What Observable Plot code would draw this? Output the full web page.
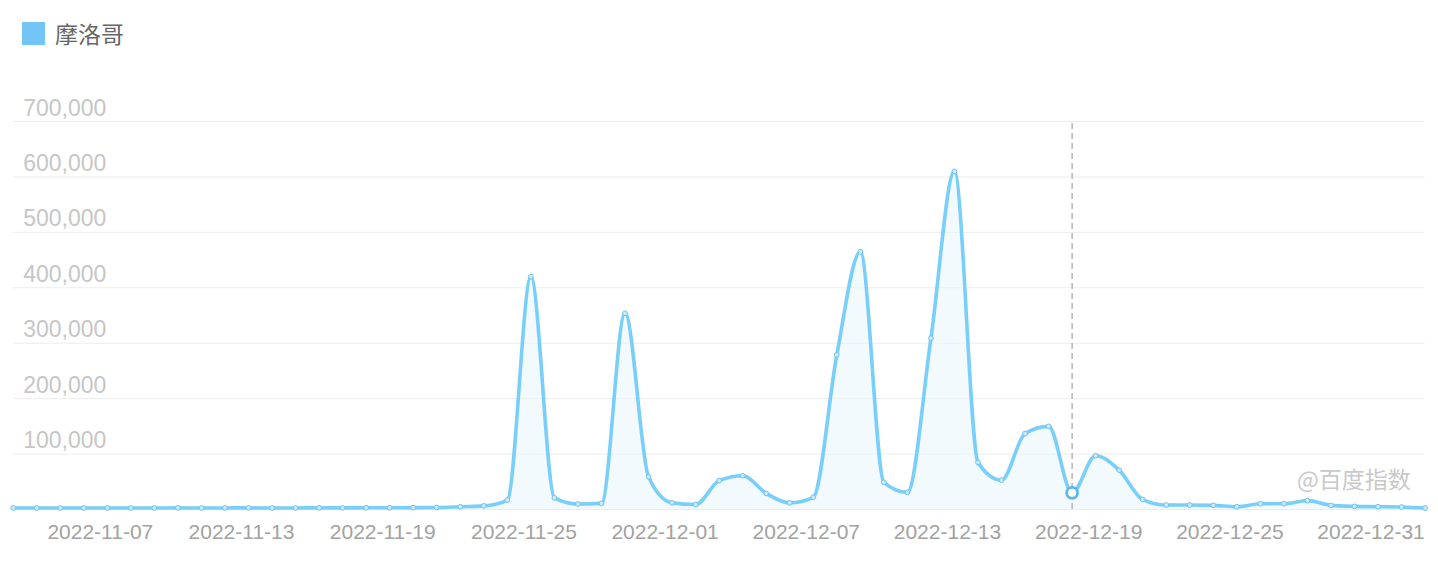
<!DOCTYPE html>
<html>
<head>
<meta charset="utf-8">
<script src="https://cdn.jsdelivr.net/npm/d3@7"></script>
<script src="https://cdn.jsdelivr.net/npm/@observablehq/plot@0.6"></script>
<style>
  html, body { margin: 0; padding: 0; background: #fff; }
  #wrap { position: relative; width: 1438px; height: 566px; overflow: hidden; }
  #legend { position: absolute; left: 22px; top: 16px; display: flex; align-items: center;
    font-family: "Noto Sans CJK SC", sans-serif; font-size: 23px; color: #666; }
  #legend .sw { width: 23px; height: 23px; background: #72c5f5; margin-right: 10px; }
  #chart { position: absolute; left: 0; top: 70px; }
  #mark { position: absolute; left: 1297px; top: 461px; font-family: "Noto Sans CJK SC", sans-serif;
    font-size: 23px; color: #c9c9c9; }
</style>
</head>
<body>
<div id="wrap">
  <div id="legend"><div class="sw"></div><span>摩洛哥</span></div>
  <div id="chart"></div>
  <div id="mark">@百度指数</div>
</div>
<script>
const seriesName = "摩洛哥";
const startDate = "2022-11-03";
const values = [
  2800, 2700, 2600, 2700, 2800, 2600, 2700, 2900, 2700, 2800,
  2900, 2700, 2800, 3000, 2900, 3100, 3200, 3300, 3500, 5000,
  6500, 17000, 420000, 21000, 10000, 11000, 354000, 59000, 12000, 9000,
  52000, 61000, 29000, 12000, 22000, 279000, 465000, 49000, 31000, 309000,
  610000, 85000, 53000, 137000, 150000, 30000, 97000, 71000, 18000, 8000,
  8000, 7500, 5000, 10500, 10500, 16000, 7500, 5600, 5000, 4500,
  2500
];
const xTickLabels = ["2022-11-07","2022-11-13","2022-11-19","2022-11-25","2022-12-01","2022-12-07","2022-12-13","2022-12-19","2022-12-25","2022-12-31"];
const yTicks = [100000, 200000, 300000, 400000, 500000, 600000, 700000];
const gridTicks = [0, 100000, 200000, 300000, 400000, 500000, 600000, 700000];
const hoverDate = "2022-12-18";

const start = new Date(startDate + "T00:00:00Z");
const data = values.map((v, i) => ({date: new Date(start.getTime() + i * 86400000), value: v}));
const xTicks = xTickLabels.map(s => new Date(s + "T00:00:00Z"));
const hover = new Date(hoverDate + "T00:00:00Z");
const hoverData = data.filter(d => +d.date === +hover);
const fmt = d3.format(",");
const lineColor = "#79cffa";

const chart = Plot.plot({
  width: 1438,
  height: 496,
  marginLeft: 12.7,
  marginRight: 13.4,
  marginTop: 51,
  marginBottom: 57,
  x: {type: "utc", domain: [data[0].date, data[data.length - 1].date], axis: null},
  y: {domain: [0, 700000], axis: null},
  marks: [
    Plot.gridY(gridTicks, {stroke: "#ececec", strokeOpacity: 1, strokeWidth: 1}),
    Plot.text(yTicks, {y: d => d, frameAnchor: "left", textAnchor: "start", lineAnchor: "bottom",
      dx: 10, dy: -6, text: d => fmt(d), fill: "#c6c6c6", fontSize: 23, fontFamily: "Liberation Sans, Arial, sans-serif"}),
    Plot.text(xTicks, {x: d => d, frameAnchor: "bottom", lineAnchor: "middle", dy: 23, dx: -7,
      text: d => d3.utcFormat("%Y-%m-%d")(d), fill: "#a2a2a2", fontSize: 21, fontFamily: "Liberation Sans, Arial, sans-serif"}),
    Plot.areaY(data, {x: "date", y: "value", curve: "monotone-x", fill: "#eaf6fe", fillOpacity: 0.6}),
    Plot.ruleX(hoverData, {x: "date", y1: 0, y2: 700000, stroke: "#b4b4bc", strokeWidth: 1.5, strokeDasharray: "6,4"}),
    Plot.lineY(data, {x: "date", y: "value", curve: "monotone-x", stroke: lineColor, strokeWidth: 3.6}),
    Plot.dot(data, {x: "date", y: "value", r: 2.4, fill: "#cdeafc", stroke: "#6ec3f2", strokeWidth: 1}),
    Plot.dot(hoverData, {x: "date", y: "value", r: 5.5, fill: "#ffffff", stroke: "#5fb6e8", strokeWidth: 2.8})
  ]
});
document.getElementById("chart").appendChild(chart);
</script>
</body>
</html>
